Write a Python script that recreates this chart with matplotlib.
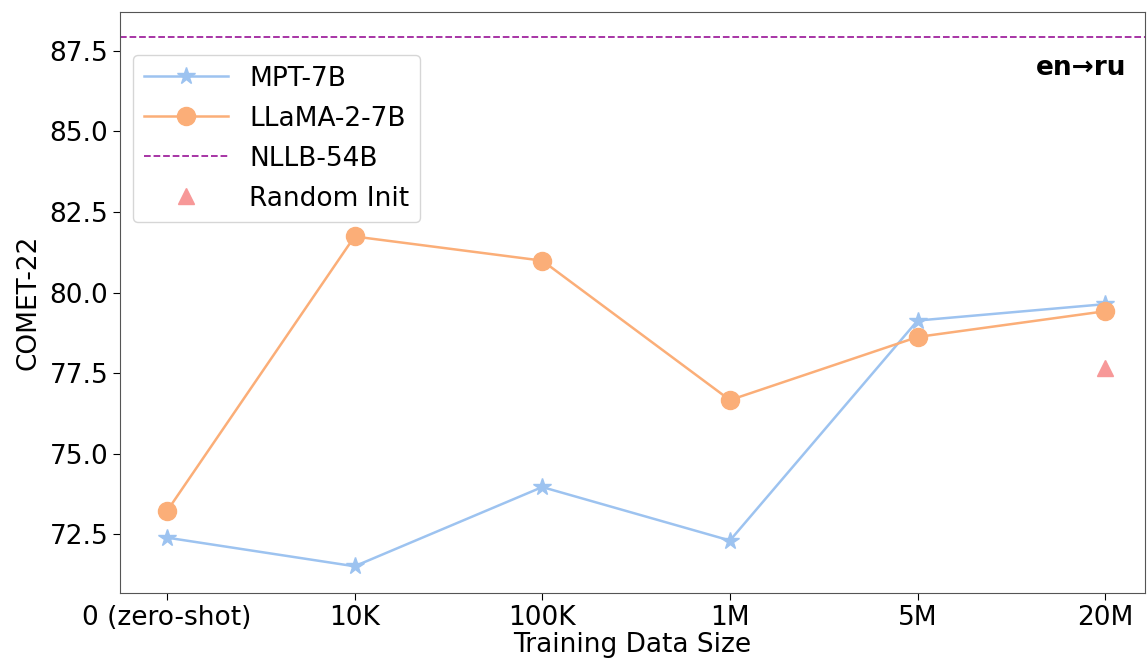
import matplotlib
matplotlib.use("Agg")
import matplotlib.pyplot as plt

categories = ["0 (zero-shot)", "10K", "100K", "1M", "5M", "20M"]
mpt_7b = [72.39, 71.50, 73.96, 72.30, 79.13, 79.64]
llama_2_7b = [73.21, 81.74, 80.99, 76.66, 78.62, 79.42]
nllb_54b = 87.92
random_init_x = "20M"
random_init_y = 77.67

fig = plt.figure(figsize=(11.47, 6.6), dpi=100)
ax = fig.add_axes([0.1046, 0.1015, 0.8934, 0.8803])
x = list(range(len(categories)))

ax.plot(x, mpt_7b, color="#9dc3f0", marker="*", markersize=13, linewidth=1.8, label="MPT-7B")
ax.plot(x, llama_2_7b, color="#fbae78", marker="o", markersize=13, linewidth=1.8, label="LLaMA-2-7B")
ax.axhline(nllb_54b, color="#a0249e", linestyle="--", linewidth=1.3, label="NLLB-54B")
ax.plot([categories.index(random_init_x)], [random_init_y], linestyle="none", marker="^",
        markersize=12, color="#f79898", label="Random Init")

ax.set_xticks(x)
ax.set_xticklabels(categories)
ax.set_xlim(-0.25, 5.21)
ax.set_ylim(70.67, 88.71)
ax.set_yticks([72.5, 75.0, 77.5, 80.0, 82.5, 85.0, 87.5])
ax.set_yticklabels(["72.5", "75.0", "77.5", "80.0", "82.5", "85.0", "87.5"])
ax.tick_params(labelsize=19, length=5)
ax.set_xlabel("Training Data Size", fontsize=19, labelpad=1)
ax.set_ylabel("COMET-22", fontsize=19, labelpad=6)
for s in ax.spines.values():
    s.set_color("#555555")

ax.text(0.982, 0.904, "en→ru", transform=ax.transAxes, ha="right", va="center",
        fontsize=19, fontweight="bold")

ax.legend(loc="upper left", bbox_to_anchor=(0.0127, 0.926), borderaxespad=0,
          fontsize=19, labelspacing=0.53, handlelength=3.2, handletextpad=0.8)

fig.savefig("out.png", dpi=100)
